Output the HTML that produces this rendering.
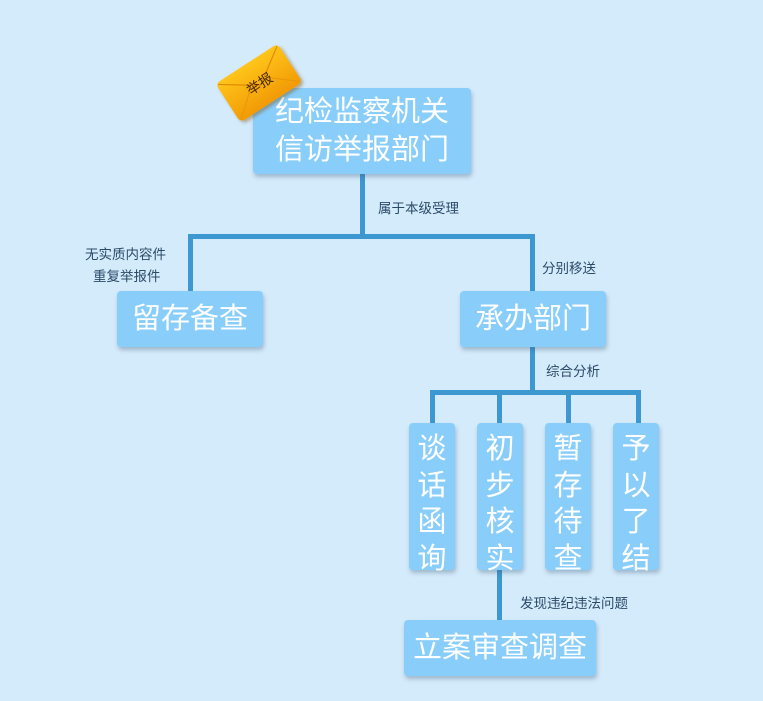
<!DOCTYPE html>
<html><head><meta charset="utf-8"><style>
body{margin:0;width:763px;height:701px;background:#d4ebfb;position:relative;overflow:hidden;font-family:"Liberation Sans","Noto Sans CJK SC",sans-serif}
.b{position:absolute;background:#89cefa;border-radius:4px;box-shadow:1px 3px 4px rgba(60,90,120,.35);color:#fff;text-align:center;font-size:29px}
.l{position:absolute;background:#3d98d1}
.t{position:absolute;font-size:13.5px;color:#2b4a68;white-space:nowrap}
.v{line-height:36.5px;padding-top:8px;font-size:29px}
</style></head><body>
<div class="l" style="left:360px;top:172px;width:5px;height:66px"></div>
<div class="l" style="left:188px;top:234px;width:347px;height:5px"></div>
<div class="l" style="left:188px;top:234px;width:5px;height:60px"></div>
<div class="l" style="left:530px;top:234px;width:5px;height:60px"></div>
<div class="l" style="left:530px;top:345px;width:5px;height:48px"></div>
<div class="l" style="left:430px;top:390px;width:211px;height:5px"></div>
<div class="l" style="left:430px;top:390px;width:5px;height:35px"></div>
<div class="l" style="left:497px;top:390px;width:5px;height:35px"></div>
<div class="l" style="left:566px;top:390px;width:5px;height:35px"></div>
<div class="l" style="left:636px;top:390px;width:5px;height:35px"></div>
<div class="l" style="left:497px;top:568px;width:5px;height:54px"></div>

<div class="b" style="left:253px;top:88px;width:218px;height:86px;line-height:38px;padding-top:5px;box-sizing:border-box">纪检监察机关<br>信访举报部门</div>
<div class="b" style="left:117px;top:291px;width:146px;height:56px;line-height:56px">留存备查</div>
<div class="b" style="left:460px;top:291px;width:146px;height:56px;line-height:56px">承办部门</div>
<div class="b v" style="left:409px;top:423px;width:46px;height:147px;box-sizing:border-box">谈<br>话<br>函<br>询</div>
<div class="b v" style="left:477px;top:423px;width:46px;height:147px;box-sizing:border-box">初<br>步<br>核<br>实</div>
<div class="b v" style="left:545px;top:423px;width:46px;height:147px;box-sizing:border-box">暂<br>存<br>待<br>查</div>
<div class="b v" style="left:613px;top:423px;width:46px;height:147px;box-sizing:border-box">予<br>以<br>了<br>结</div>
<div class="b" style="left:404px;top:620px;width:192px;height:56px;line-height:56px">立案审查调查</div>

<div class="t" style="left:378px;top:197px">属于本级受理</div>
<div class="t" style="left:85px;top:243px">无实质内容件</div>
<div class="t" style="left:93px;top:265px">重复举报件</div>
<div class="t" style="left:542px;top:257px">分别移送</div>
<div class="t" style="left:546px;top:360px">综合分析</div>
<div class="t" style="left:520px;top:592px">发现违纪违法问题</div>

<div style="position:absolute;left:222px;top:60px;width:74px;height:46px;transform:rotate(-33deg);border-radius:5px;background:linear-gradient(#ffc51a,#f29a05);box-shadow:1px 3px 3px rgba(120,70,0,.4);overflow:hidden">
<svg width="74" height="46" style="position:absolute;left:0;top:0"><path d="M2 2 L37 26 L72 2" stroke="#e08a00" fill="none" stroke-width="1.2"/><path d="M2 44 L28 22 M72 44 L46 22" stroke="#e8960a" fill="none"/></svg>
<div style="position:absolute;left:0;top:14px;width:74px;text-align:center;font-size:14px;color:#4a2a00">举报</div>
</div>
</body></html>
